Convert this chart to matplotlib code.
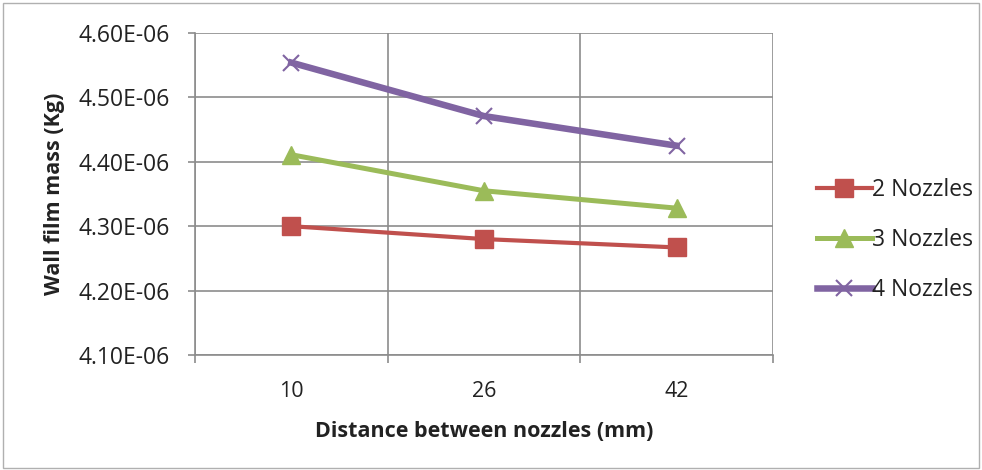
import matplotlib
matplotlib.use("Agg")
import matplotlib.pyplot as plt
from matplotlib.ticker import FixedLocator, FuncFormatter

# Values
distances = ["10", "26", "42"]
series_names = ["2 Nozzles", "3 Nozzles", "4 Nozzles"]
mass_2 = [4.300e-6, 4.280e-6, 4.267e-6]
mass_3 = [4.411e-6, 4.355e-6, 4.328e-6]
mass_4 = [4.554e-6, 4.471e-6, 4.425e-6]
y_ticks = [4.10e-6, 4.20e-6, 4.30e-6, 4.40e-6, 4.50e-6, 4.60e-6]

plt.rcParams["font.family"] = ["Open Sans", "DejaVu Sans"]

fig = plt.figure(figsize=(9.82, 4.70), dpi=100)
ax = fig.add_axes([0.1986, 0.2447, 0.5885, 0.6851])

grid_c = "#8c8c8c"
xs = range(len(distances))

ax.plot(xs, mass_2, color="#C0504D", lw=3, marker="s", ms=13,
        label=series_names[0], zorder=3)
ax.plot(xs, mass_3, color="#9BBB59", lw=3.6, marker="^", ms=13,
        label=series_names[1], zorder=3)
ax.plot(xs, mass_4, color="#8064A2", lw=4.7, marker="x", ms=12, mew=1.5,
        label=series_names[2], zorder=3)

ax.set_xlim(-0.5, len(distances) - 0.5)
ax.set_ylim(y_ticks[0], y_ticks[-1])
ax.set_xticks(list(xs))
ax.set_xticklabels(distances)
ax.xaxis.set_minor_locator(FixedLocator([i - 0.5 for i in range(len(distances) + 1)]))
ax.set_yticks(y_ticks)
ax.yaxis.set_major_formatter(FuncFormatter(lambda v, p: f"{v * 1e6:.2f}E-06"))

ax.grid(True, axis="y", color=grid_c, lw=1.2)
ax.grid(True, axis="x", which="minor", color=grid_c, lw=1.2)
ax.set_axisbelow(True)
for side in ["top", "right"]:
    ax.spines[side].set_visible(False)
for side in ["left", "bottom"]:
    ax.spines[side].set_color(grid_c)
    ax.spines[side].set_linewidth(1.2)

ax.tick_params(axis="x", which="major", length=0, pad=19, labelsize=15.5, colors="#222222")
ax.tick_params(axis="x", which="minor", length=6, direction="out", color=grid_c, width=1.2)
ax.tick_params(axis="y", length=5, direction="out", color=grid_c, width=1.2,
               pad=13, labelsize=16.5, labelcolor="#222222")

ax.set_xlabel("Distance between nozzles (mm)", fontsize=15.5, fontweight="bold",
              color="#222222")
ax.set_ylabel("Wall film mass (Kg)", fontsize=15.5, fontweight="bold",
              color="#222222")
ax.xaxis.set_label_coords(0.5, -0.205)
ax.yaxis.set_label_coords(-0.225, 0.5)

ax.legend(loc="center left", bbox_to_anchor=(1.04, 0.357), frameon=False, fontsize=16.5,
          handlelength=2.4, handletextpad=0.0, labelspacing=1.15, markerscale=1.0,
          labelcolor="#222222")

# light chart border
border = plt.Rectangle((0.003, 0.004), 0.994, 0.99, transform=fig.transFigure,
                       fill=False, ec="#b0b0b0", lw=1)
fig.patches.append(border)

fig.savefig("out.png", dpi=100)
